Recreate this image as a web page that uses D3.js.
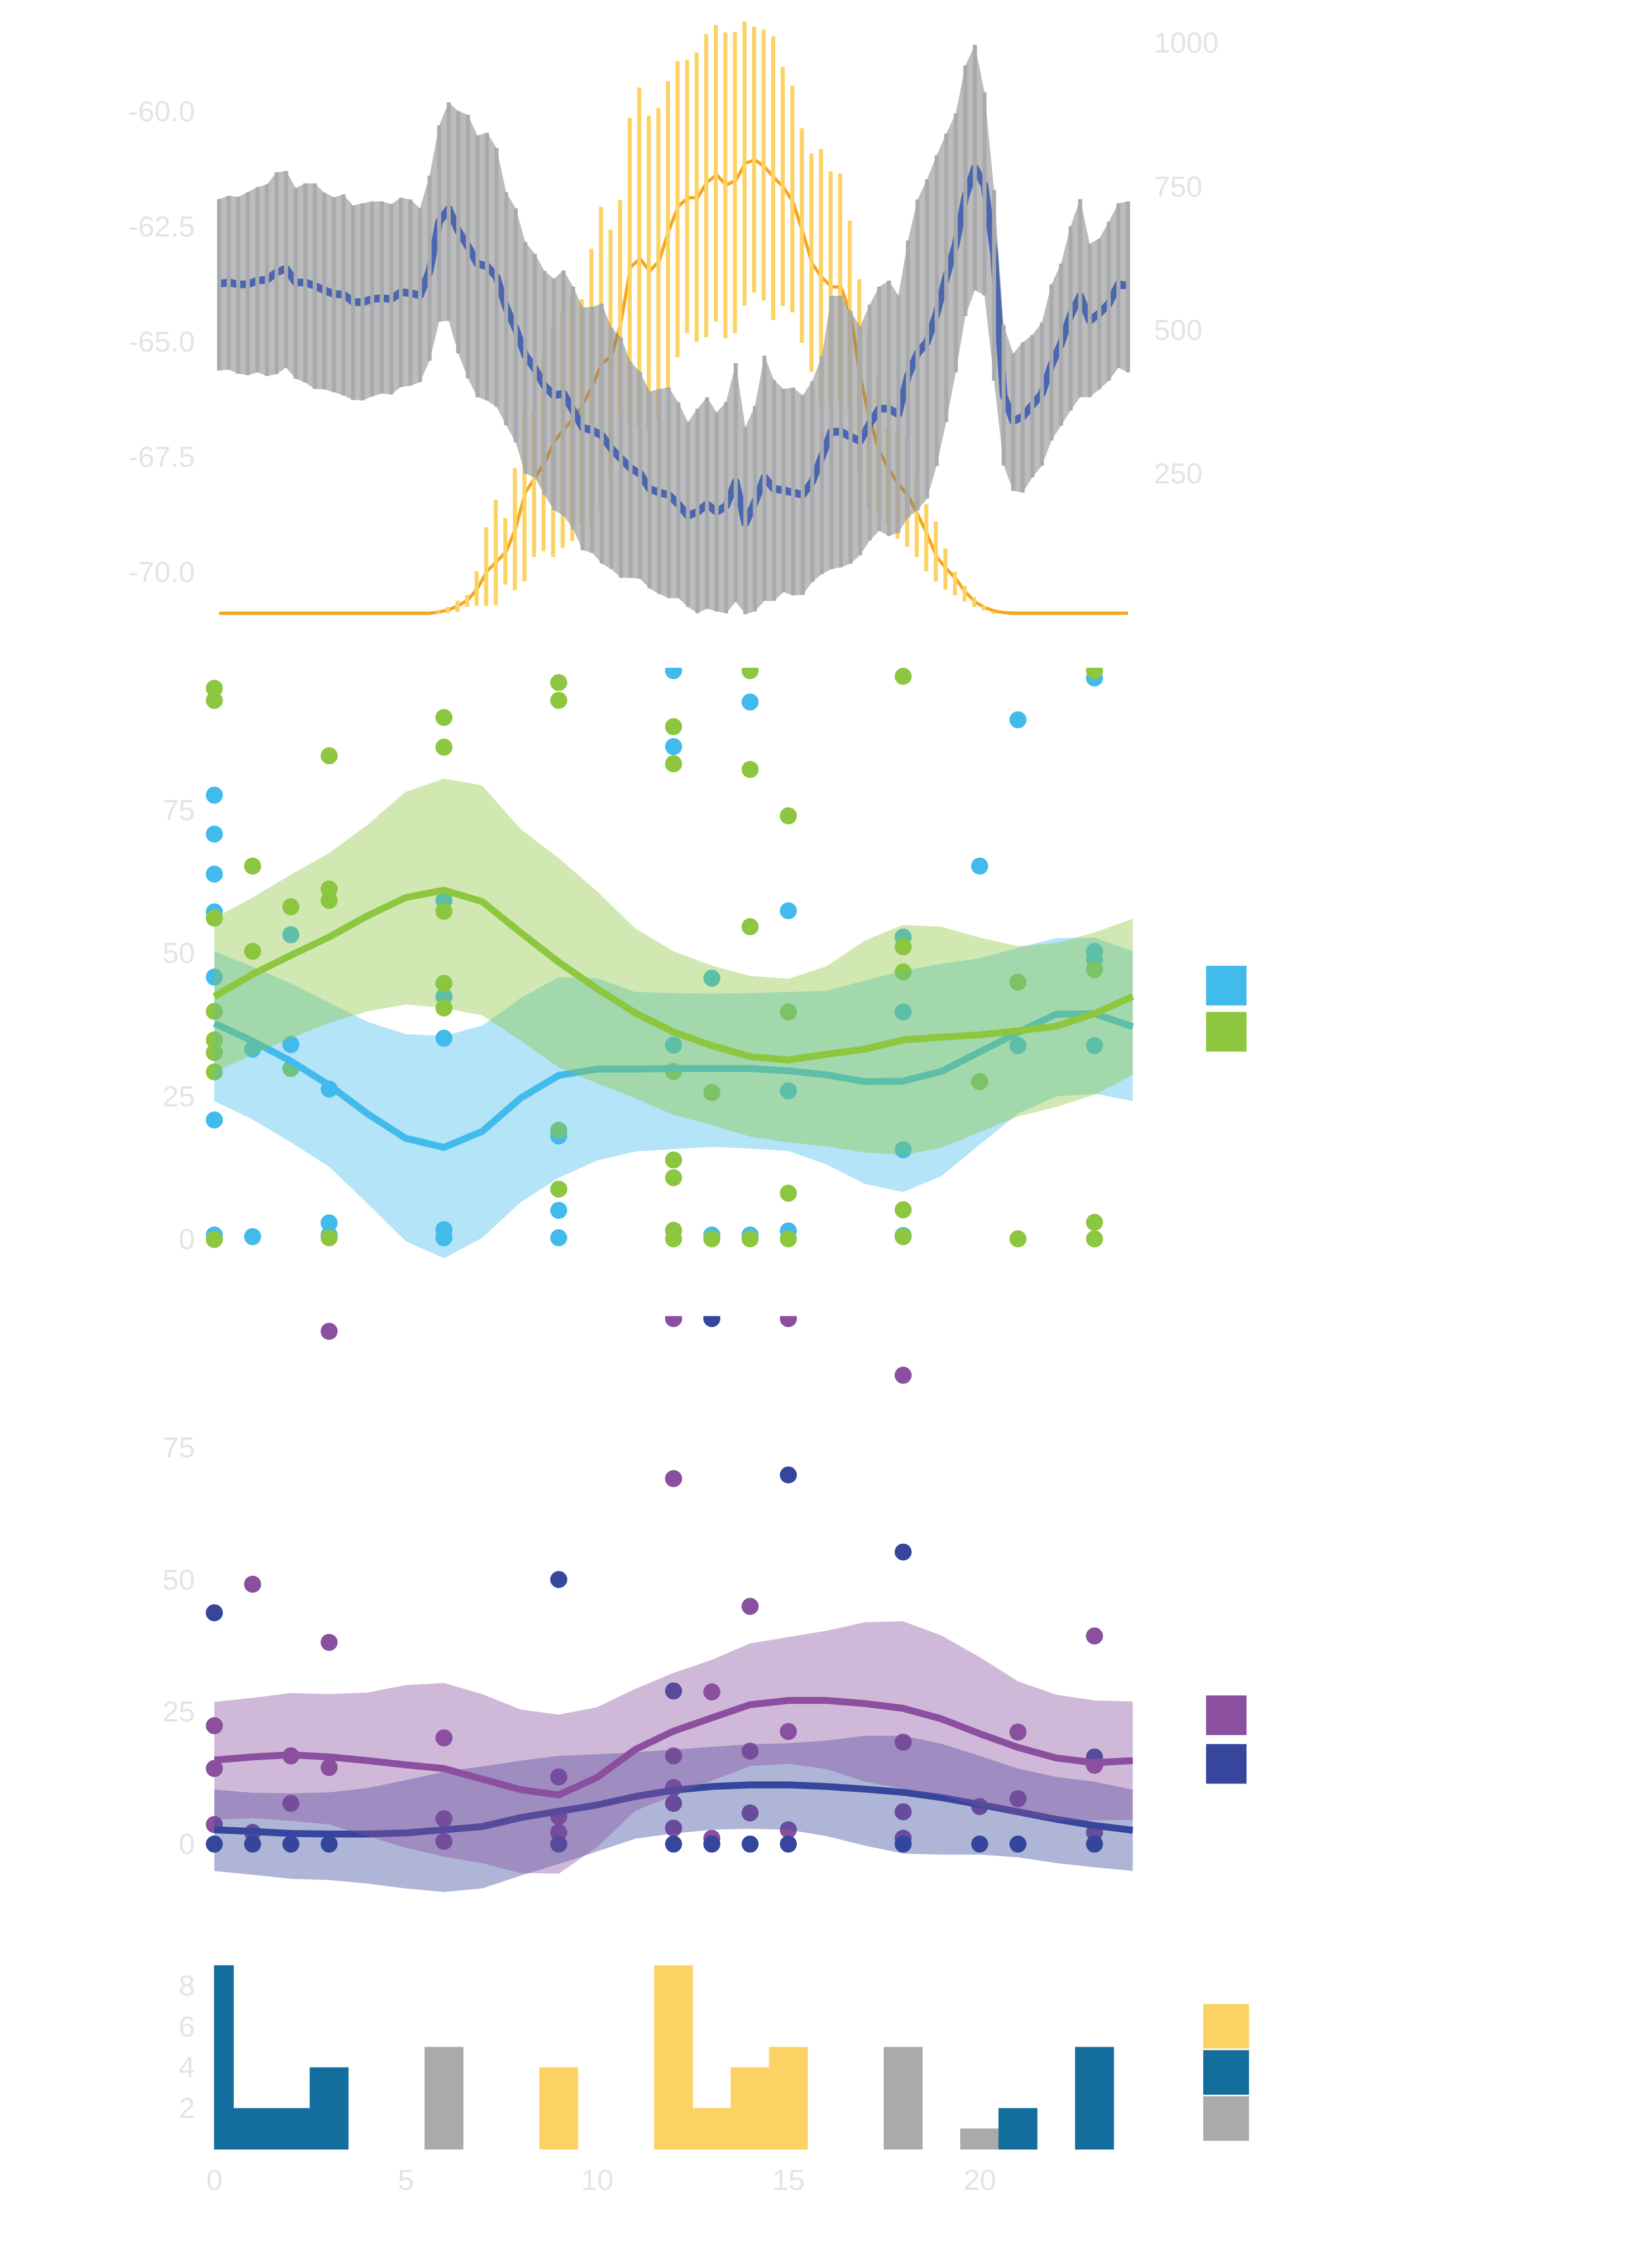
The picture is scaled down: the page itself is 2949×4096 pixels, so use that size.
<!DOCTYPE html>
<html><head><meta charset="utf-8">
<script src="https://cdn.jsdelivr.net/npm/d3@7"></script>
<style>html,body{margin:0;padding:0;background:#fff;overflow:hidden}</style>
</head><body>
<svg id="chart" width="2949" height="4096" viewBox="0 0 4032 5601"></svg>
<script>
// ---------- TOP PANEL DATA (15-min steps) ----------
const topBandHigh = [
-61.90,-61.83,-61.85,-61.75,-61.64,-61.58,-61.32,-61.29,-61.66,-61.56,
-61.56,-61.76,-61.86,-61.80,-62.04,-61.99,-61.95,-61.95,-62.01,-61.87,
-61.91,-62.10,-61.39,-60.30,-59.80,-59.99,-60.07,-60.52,-60.46,-60.79,
-61.75,-62.10,-62.83,-63.09,-63.46,-63.63,-63.45,-63.80,-64.25,-64.24,
-64.17,-64.69,-64.90,-65.43,-65.65,-66.08,-66.02,-65.99,-66.31,-66.74,
-66.45,-66.20,-66.53,-66.30,-65.46,-66.85,-66.39,-65.30,-65.83,-66.02,
-65.99,-66.16,-65.85,-65.31,-64.00,-64.00,-64.33,-64.67,-64.19,-63.80,
-63.67,-63.99,-62.80,-61.91,-61.47,-60.95,-60.48,-60.04,-59.00,-58.55,
-59.58,-61.70,-64.63,-65.25,-65.01,-64.85,-64.58,-63.75,-63.30,-62.49,
-61.90,-62.87,-62.76,-62.39,-61.99,-61.95];
const topBandLow = [
-65.62,-65.60,-65.69,-65.72,-65.66,-65.74,-65.70,-65.56,-65.80,-65.88,
-66.02,-66.03,-66.09,-66.16,-66.26,-66.27,-66.18,-66.12,-66.14,-65.98,
-65.95,-65.87,-65.41,-64.56,-64.54,-65.25,-65.79,-66.20,-66.27,-66.41,
-66.81,-67.18,-67.86,-67.94,-68.32,-68.65,-68.77,-69.06,-69.52,-69.58,
-69.81,-69.93,-70.12,-70.12,-70.14,-70.35,-70.47,-70.56,-70.56,-70.75,
-70.89,-70.79,-70.85,-70.89,-70.64,-70.91,-70.85,-70.62,-70.62,-70.43,
-70.50,-70.49,-70.21,-70.04,-69.93,-69.89,-69.81,-69.63,-69.31,-69.10,
-69.21,-69.14,-68.81,-68.65,-68.40,-67.69,-66.74,-65.66,-64.44,-63.88,
-63.99,-65.84,-67.68,-68.23,-68.27,-67.94,-67.69,-67.14,-66.82,-66.49,
-66.20,-66.20,-66.03,-65.84,-65.56,-65.66];
const topMean = [
-63.74,-63.71,-63.75,-63.75,-63.67,-63.65,-63.49,-63.41,-63.71,-63.71,
-63.78,-63.88,-63.96,-63.97,-64.13,-64.14,-64.07,-64.05,-64.07,-63.92,
-63.94,-63.99,-63.46,-62.39,-62.11,-62.59,-62.92,-63.30,-63.36,-63.59,
-64.25,-64.71,-65.29,-65.58,-65.95,-66.16,-66.12,-66.49,-66.86,-66.92,
-67.03,-67.32,-67.53,-67.74,-67.86,-68.19,-68.27,-68.32,-68.52,-68.77,
-68.69,-68.52,-68.69,-68.56,-68.03,-68.94,-68.48,-67.94,-68.19,-68.22,
-68.27,-68.32,-68.03,-67.49,-66.95,-66.95,-67.06,-67.15,-66.78,-66.45,
-66.45,-66.57,-65.74,-65.25,-65.00,-64.38,-63.59,-62.88,-61.85,-61.22,
-61.60,-63.09,-66.16,-66.72,-66.62,-66.37,-66.12,-65.50,-65.04,-64.42,
-64.00,-64.54,-64.38,-64.17,-63.75,-63.78];
const N = null;
const sunLow = [
N,N,N,N,N,N,N,N,N,N,
N,N,N,N,N,N,N,N,N,N,
N,N,N,7,7,9,18,20,20,21,
57,47,63,105,115,105,121,133,161,161,
185,241,353,338,330,327,346,396,453,495,
480,488,515,486,495,543,566,552,518,542,
531,478,428,370,370,376,360,250,190,183,
163,137,123,105,80,62,48,38,27,18,
12,6,N,N,N,N,N,N,N,N,
N,N,N,N,N,N];
const sunHigh = [
N,N,N,N,N,N,N,N,N,N,
N,N,N,N,N,N,N,N,N,N,
N,N,N,10,18,29,39,80,157,205,
173,260,360,360,453,506,532,560,554,642,
715,675,727,870,923,874,887,934,969,971,
984,1016,1032,1019,1020,1038,1029,1024,1012,959,
926,852,808,816,777,773,691,589,493,420,
330,326,313,250,197,167,120,79,55,35,
20,10,N,N,N,N,N,N,N,N,
N,N,N,N,N,N];
const sunMean = [
7,7,7,7,7,7,7,7,7,7,
7,7,7,7,7,7,7,7,7,7,
7,7,7,9,13,20,30,50,80,97,
114,155,217,243,268,305,327,345,370,403,
442,454,513,610,625,603,621,674,716,731,
731,758,771,753,761,791,797,785,766,749,
723,671,616,592,576,575,530,420,345,290,
258,232,212,180,145,105,85,67,44,27,
17,11,8,7,7,7,7,7,7,7,
7,7,7,7,7,7];
const topHours = d3.range(96).map(i => 0.125 + 0.25 * i);
const topLeftTicks = [-60, -62.5, -65, -67.5, -70];
const topRightTicks = [250, 500, 750, 1000];

// ---------- SMOOTH GRID (hours) ----------
const smoothHours = d3.range(25);

// ---------- PANEL 2 (blue / green) ----------
const blueLine  = [37.8,34.7,31.2,27.0,22.0,17.7,16.1,18.9,24.7,28.7,29.8,29.8,29.9,29.9,29.9,29.5,28.8,27.6,27.7,29.4,32.8,36.2,39.4,39.5,37.2];
const blueUpper = [50.4,47.7,44.8,41.4,38.1,35.9,35.6,37.4,42.2,45.9,45.7,43.3,43.1,43.0,43.1,43.3,43.5,45.3,47.0,48.2,49.2,51.0,52.7,52.8,50.4];
const blueLower = [24.2,21.0,17.0,12.7,6.3,-0.3,-3.3,0.3,6.5,10.8,13.8,15.4,15.8,16.2,15.9,15.5,13.1,9.7,8.3,11.1,16.6,22.0,25.0,25.5,24.2];
const greenLine  = [42.5,46.4,49.7,52.9,56.6,59.8,61.1,59.1,53.7,48.5,43.9,39.6,36.3,33.9,32.0,31.4,32.4,33.3,34.9,35.4,35.8,36.5,37.3,39.5,42.5];
const greenUpper = [56.2,59.8,63.8,67.6,72.5,78.3,80.6,79.4,71.8,66.7,60.9,54.4,50.4,47.9,46.1,45.6,47.8,52.3,55.0,54.7,52.8,51.3,51.8,53.7,56.1];
const greenLower = [29.3,32.3,35.2,37.9,39.9,41.1,40.5,39.2,34.8,30.1,27.3,24.7,21.8,20.0,18.0,17.0,16.3,15.2,14.8,16.0,18.8,21.5,23.2,25.3,28.8];
const bluePoints = [
[0,77.7],[0,70.9],[0,63.9],[0,57.3],[0,45.9],[0,20.9],[0,0.8],
[1,33.3],[1,0.5],
[2,53.3],[2,34.1],
[3,26.3],[3,2.9],[3,0.8],
[6,59.3],[6,42.5],[6,35.2],[6,1.7],[6,0.3],
[9,18.1],[9,5.1],[9,0.3],
[12,99.5],[12,86.2],[12,34.0],
[13,45.7],[13,0.8],
[14,94.0],[14,0.8],
[15,57.5],[15,26.0],[15,1.5],
[18,52.9],[18,39.8],[18,15.7],[18,0.7],
[20,65.3],
[21,90.9],[21,33.9],
[23,98.2],[23,50.4],[23,49.0],[23,33.9]];
const greenPoints = [
[0,96.4],[0,94.3],[0,56.2],[0,39.9],[0,34.9],[0,32.7],[0,29.3],[0,0.0],
[1,65.3],[1,50.4],
[2,58.2],[2,29.9],
[3,84.6],[3,61.3],[3,59.3],[3,0.3],
[6,91.3],[6,86.1],[6,57.4],[6,44.8],[6,40.5],
[9,97.4],[9,94.3],[9,19.1],[9,8.8],
[12,89.7],[12,83.2],[12,29.4],[12,13.9],[12,10.8],[12,1.6],[12,0.1],
[13,25.7],[13,0.1],
[14,99.5],[14,82.2],[14,54.7],[14,0.1],
[15,74.1],[15,39.8],[15,8.1],[15,0.1],
[18,98.5],[18,51.2],[18,46.8],[18,5.2],[18,0.5],
[20,27.6],
[21,45.0],[21,0.1],
[23,99.5],[23,47.2],[23,3.0],[23,0.1]];

// ---------- PANEL 3 (purple / navy) ----------
const purpleLine  = [15.9,16.5,16.9,16.5,15.8,15.0,14.3,12.3,10.3,9.3,12.6,17.9,21.4,23.9,26.4,27.2,27.2,26.6,25.7,23.7,20.9,18.3,16.3,15.4,15.8];
const purpleUpper = [26.9,27.7,28.6,28.4,28.7,30.1,30.5,28.4,25.5,24.5,25.9,29.4,32.4,34.9,38.0,39.2,40.4,42.0,42.2,39.5,35.4,30.8,28.3,27.2,27.0];
const purpleLower = [4.6,4.9,4.4,3.7,1.5,-0.7,-2.4,-3.6,-5.5,-5.6,-0.6,6.3,9.2,12.0,14.8,15.2,14.2,11.8,10.5,9.2,7.1,5.5,4.4,4.5,4.6];
const navyLine  = [2.7,2.4,2.0,1.9,1.9,2.1,2.7,3.3,5.0,6.2,7.4,9.0,10.2,10.9,11.2,11.2,10.9,10.4,9.8,8.8,7.5,6.1,4.7,3.5,2.6];
const navyUpper = [10.3,9.7,9.6,9.8,10.6,12.1,13.7,14.7,15.8,16.7,17.0,17.4,17.9,18.4,18.9,19.1,19.6,20.5,20.5,19.0,16.7,14.3,12.7,11.8,10.3];
const navyLower = [-5.1,-5.8,-6.6,-6.8,-7.5,-8.4,-9.1,-8.4,-6.0,-3.8,-1.4,1.0,2.0,2.7,2.9,2.7,1.5,-0.3,-1.8,-2.0,-2.0,-2.5,-3.6,-4.4,-5.1];
const purplePoints = [
[0,22.4],[0,14.3],[0,3.7],
[1,49.2],[1,2.2],
[2,16.7],[2,7.7],
[3,97.1],[3,38.2],[3,14.5],
[6,20.1],[6,4.8],[6,0.5],
[9,12.7],[9,5.2],[9,2.2],
[12,99.5],[12,69.2],[12,16.7],[12,10.7],[12,7.7],[12,3.0],
[13,28.8],[13,1.1],
[14,45.0],[14,17.6],[14,5.9],
[15,99.5],[15,21.3],[15,2.7],
[18,88.8],[18,19.3],[18,6.1],[18,1.1],
[20,7.1],
[21,21.2],[21,8.6],
[23,39.4],[23,14.9],[23,2.2]];
const navyPoints = [
[0,43.8],[0,0],[1,0],[2,0],[3,0],
[9,50.1],[9,0],
[12,29.0],[12,0],
[13,99.5],[13,0],
[14,0],
[15,69.9],[15,0],
[18,55.3],[18,0],
[20,0],[21,0],
[23,16.5],[23,0]];
const pctTicks = [0, 25, 50, 75];

// ---------- PANEL 4 (histogram) ----------
const histHours  = [0,1,2,3,6,9,12,13,14,15,18,20,21,23];
const histCounts = [9,2,2,4,5,4,9,2,4,5,5,1,2,5];
const histGroups = ["b","b","b","b","g","y","y","y","y","y","g","g","b","b"];
const histLegend = ["y","b","g"];
const histTicks = [2,4,6,8];
const hourTicks = [0,5,10,15,20];

// ---------- STYLE ----------
const C = {
  text:"#e4e4e4", orange:"#f7a51c", yellow:"#fcd262", area:"#7a7a7a", dark:"#a9aaae", mean:"#4a66b0",
  blue:"#41bbec", green:"#8dc63f", purple:"#8a4f9e", navy:"#35469c",
  hb:"#136e9e", hy:"#fcd264", hg:"#aaaaaa"
};
const FONT = "'Liberation Sans', Arial, Helvetica, sans-serif";

const svg = d3.select("#chart");
const x = d3.scaleLinear().domain([0,24]).range([529,2797]);

function styleAxis(g){
  g.select(".domain").remove();
  g.selectAll("line").remove();
  g.selectAll("text").attr("fill", C.text).attr("font-size", 72).attr("font-family", FONT);
}

// ===== TOP PANEL =====
const yL = d3.scaleLinear().domain([-60,-70]).range([275.5,1413.3]);
const yR = d3.scaleLinear().domain([0,1000]).range([1524.3,107]);
const topG = svg.append("g");

topG.append("path")
  .attr("d", d3.line().x((d,i)=>x(topHours[i])).y(d=>yR(d))(sunMean))
  .attr("fill","none").attr("stroke",C.orange).attr("stroke-width",8).attr("stroke-linejoin","round");

topG.selectAll("rect.sun").data(topHours.map((h,i)=>({h,lo:sunLow[i],hi:sunHigh[i]})).filter(d=>d.lo!==null))
  .enter().append("rect").attr("class","sun")
  .attr("x", d=>x(d.h)-7).attr("width",10)
  .attr("y", d=>yR(d.hi)).attr("height", d=>Math.max(1, yR(d.lo)-yR(d.hi)))
  .attr("fill", C.yellow);

topG.append("path")
  .attr("d", d3.area().x((d,i)=>x(topHours[i])).y0((d,i)=>yL(topBandLow[i])).y1(d=>yL(d))(topBandHigh))
  .attr("fill", C.area).attr("fill-opacity", 0.5);

topG.append("path")
  .attr("d", d3.line().x((d,i)=>x(topHours[i])).y(d=>yL(d))(topMean))
  .attr("fill","none").attr("stroke",C.mean).attr("stroke-width",19).attr("stroke-linejoin","round");

topG.selectAll("rect.band").data(topHours.map((h,i)=>({h,lo:topBandLow[i],hi:topBandHigh[i]})))
  .enter().append("rect").attr("class","band")
  .attr("x", d=>x(d.h)-5).attr("width",10)
  .attr("y", d=>yL(d.hi)).attr("height", d=>yL(d.lo)-yL(d.hi))
  .attr("fill", C.dark);

topG.append("g").attr("transform","translate(529,0)")
  .call(d3.axisLeft(yL).tickValues(topLeftTicks).tickSize(0).tickPadding(48).tickFormat(d=>d.toFixed(1)))
  .call(styleAxis);
topG.append("g").attr("transform","translate(2797,0)")
  .call(d3.axisRight(yR).tickValues(topRightTicks).tickSize(0).tickPadding(52).tickFormat(d=>String(d)))
  .call(styleAxis);

// ===== generic scatter + smooth panel =====
function smoothPanel(cfg){
  const y = d3.scaleLinear().domain([0,75]).range([cfg.y0, cfg.y75]);
  const clipId = cfg.id + "clip";
  svg.append("clipPath").attr("id", clipId).append("rect")
    .attr("x", 0).attr("y", y(100)).attr("width", 4032).attr("height", y(-20) - y(100));
  const g = svg.append("g").attr("clip-path", `url(#${clipId})`);
  cfg.points.forEach(p=>{
    g.selectAll(null).data(p.data).enter().append("circle")
      .attr("cx", d=>x(d[0])).attr("cy", d=>y(d[1])).attr("r", 21).attr("fill", p.color);
  });
  cfg.series.forEach(s=>{
    g.append("path")
      .attr("d", d3.area().x((d,i)=>x(smoothHours[i])).y0((d,i)=>y(s.lower[i])).y1(d=>y(d))(s.upper))
      .attr("fill", s.color).attr("fill-opacity", 0.4);
    g.append("path")
      .attr("d", d3.line().x((d,i)=>x(smoothHours[i])).y(d=>y(d))(s.line))
      .attr("fill","none").attr("stroke", s.color).attr("stroke-width", 17).attr("stroke-linejoin","round");
  });
  svg.append("g").attr("transform","translate(529,0)")
    .call(d3.axisLeft(y).tickValues(pctTicks).tickSize(0).tickPadding(48).tickFormat(d=>String(d)))
    .call(styleAxis);
  svg.selectAll(null).data(cfg.legend).enter().append("rect")
    .attr("x", 2978).attr("y", d=>d.y).attr("width", 100).attr("height", 98).attr("fill", d=>d.color);
}

smoothPanel({
  id:"p2", y0:3061, y75:2002,
  points:[{data:bluePoints,color:C.blue},{data:greenPoints,color:C.green}],
  series:[{line:blueLine,upper:blueUpper,lower:blueLower,color:C.blue},
          {line:greenLine,upper:greenUpper,lower:greenLower,color:C.green}],
  legend:[{y:2385,color:C.blue},{y:2499,color:C.green}]
});
smoothPanel({
  id:"p3", y0:4554, y75:3576,
  points:[{data:purplePoints,color:C.purple},{data:navyPoints,color:C.navy}],
  series:[{line:navyLine,upper:navyUpper,lower:navyLower,color:C.navy},
          {line:purpleLine,upper:purpleUpper,lower:purpleLower,color:C.purple}],
  legend:[{y:4187,color:C.purple},{y:4307,color:C.navy}]
});

// ===== HISTOGRAM =====
const yH = d3.scaleLinear().domain([0,8]).range([5307.7,4904.5]);
const gc = {b:C.hb, y:C.hy, g:C.hg};
svg.selectAll("rect.hist").data(histHours.map((h,i)=>({h,c:histCounts[i],k:histGroups[i]})))
  .enter().append("rect").attr("class","hist")
  .attr("x", d=>x(Math.max(0,d.h-0.5))).attr("width", d=>x(Math.min(24,d.h+0.5))-x(Math.max(0,d.h-0.5)))
  .attr("y", d=>yH(d.c)).attr("height", d=>yH(0)-yH(d.c))
  .attr("fill", d=>gc[d.k]).attr("stroke", d=>gc[d.k]).attr("stroke-width", 1.5);
svg.append("g").attr("transform","translate(529,0)")
  .call(d3.axisLeft(yH).tickValues(histTicks).tickSize(0).tickPadding(48).tickFormat(d=>String(d)))
  .call(styleAxis);
svg.append("g").attr("transform","translate(0,5307.7)")
  .call(d3.axisBottom(x).tickValues(hourTicks).tickSize(0).tickPadding(49).tickFormat(d=>String(d)))
  .call(styleAxis);
svg.selectAll("rect.hleg").data(histLegend).enter().append("rect").attr("class","hleg")
  .attr("x", 2971).attr("y", (d,i)=>4949 + i*114).attr("width", 113).attr("height", 110)
  .attr("fill", d=>gc[d]);
</script>
</body></html>
